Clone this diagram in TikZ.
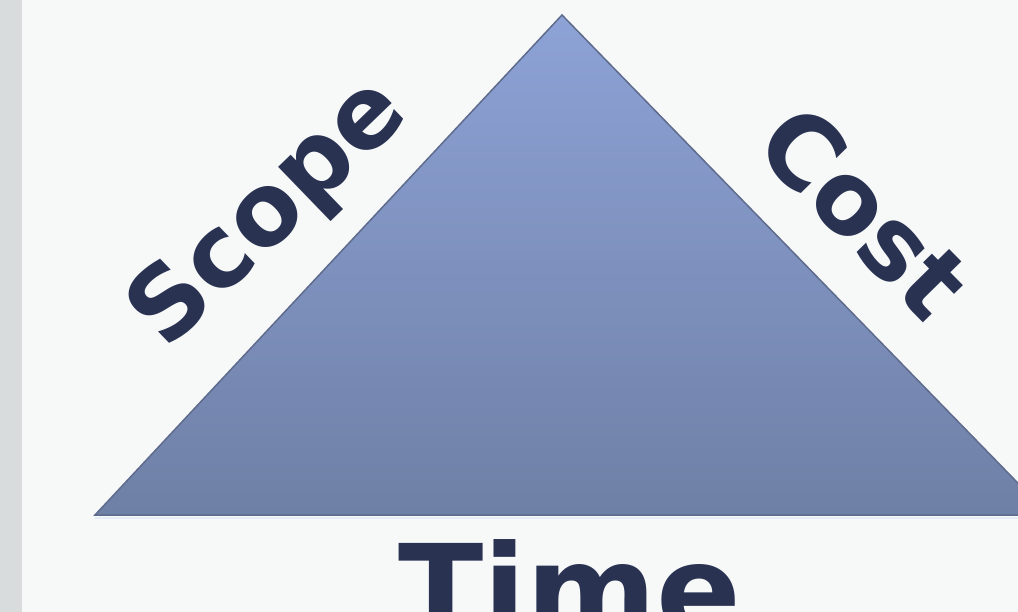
\documentclass[tikz,border=0pt]{standalone}
\usepackage{fontspec}
\setmainfont{DejaVu Sans}
\definecolor{bgc}{HTML}{F7F9F9}
\definecolor{stripc}{HTML}{D9DCDD}
\definecolor{tritop}{HTML}{8DA2D6}
\definecolor{tribot}{HTML}{6F80A6}
\definecolor{edgec}{HTML}{5E6B8C}
\definecolor{txtc}{HTML}{2A3252}
\tikzset{
  label/.style={text=txtc, font=\bfseries\fontsize{100}{110}\selectfont, inner sep=0pt, anchor=base},
  biglabel/.style={label, font=\bfseries\fontsize{125}{130}\selectfont}
}
\begin{document}
\begin{tikzpicture}[x=1pt,y=-1pt]
\useasboundingbox (0,0) rectangle (1018,612);
\fill[bgc] (0,0) rectangle (1018,612);
\fill[stripc] (0,0) rectangle (22,612);
\begin{scope}
\clip (0,0) rectangle (1018,612);
\shade[top color=tritop, bottom color=tribot] (95,515) -- (562,15) -- (1049,515) -- cycle;
\draw[edgec, line width=1.5pt, line join=miter] (95,515) -- (562,15) -- (1049,515) -- cycle;
\draw[white!80!tritop, line width=1.5pt] (95,518) -- (1049,518);
\end{scope}
\node[label, rotate=44] (scope) at (289,234) {Scope};
\node[label, rotate=-45.5] (cost) at (839,237) {Cost};
\node[biglabel] (time) at (570,634) {Time};
\end{tikzpicture}
\end{document}
